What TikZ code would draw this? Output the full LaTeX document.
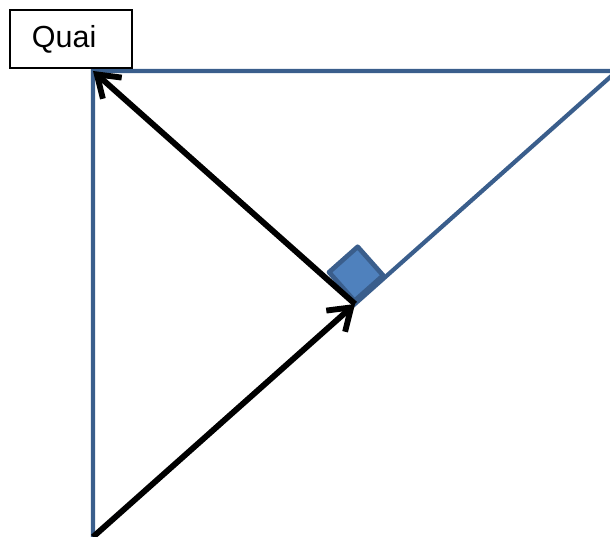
\documentclass[tikz,border=0pt]{standalone}
\usepackage{fontspec}
\setmainfont{Liberation Sans}
\usetikzlibrary{arrows.meta, calc}
\definecolor{edgeblue}{HTML}{3A5E8C}
\definecolor{fillblue}{HTML}{4F81BD}

\begin{document}
\begin{tikzpicture}[x=0.03cm, y=0.03cm,
    side/.style={edgeblue, line width=3.6pt},
    vec/.style={black, line width=5pt, -{Straight Barb[length=0.62cm, width=0.85cm]}},
    label box/.style={draw, line width=1pt, text width=2.34cm, inner xsep=0.66cm,
      minimum height=1.74cm, align=left, font=\fontsize{26}{30}\selectfont}]
  \useasboundingbox (0,0) rectangle (610,537);
  \clip (0,0) rectangle (610,537);
  % corners of the triangle
  \coordinate (A) at (93,0);
  \coordinate (B) at (93,466);
  \coordinate (C) at (617,466);
  \coordinate (H) at ($(A)!0.5!(C)$);
  % triangle sides
  \draw[side] (A) -- (B) -- (C) -- cycle;
  % right angle marker
  \coordinate (S1) at ($(H)+(131.6:0.08cm)+(41.6:0.05cm)$);
  \coordinate (S2) at ($(S1)+(41.6:1.15cm)$);
  \coordinate (S3) at ($(S2)+(131.6:1.15cm)$);
  \coordinate (S4) at ($(S1)+(131.6:1.15cm)$);
  \draw[edgeblue, fill=fillblue, line width=4pt, line join=round]
    (S1) -- (S2) -- (S3) -- (S4) -- cycle;
  % vectors
  \draw[vec] (A) -- (H);
  \draw[vec] (H) -- (B);
  % label
  \node[label box] (quai) at (71,498) {Quai};
\end{tikzpicture}
\end{document}
